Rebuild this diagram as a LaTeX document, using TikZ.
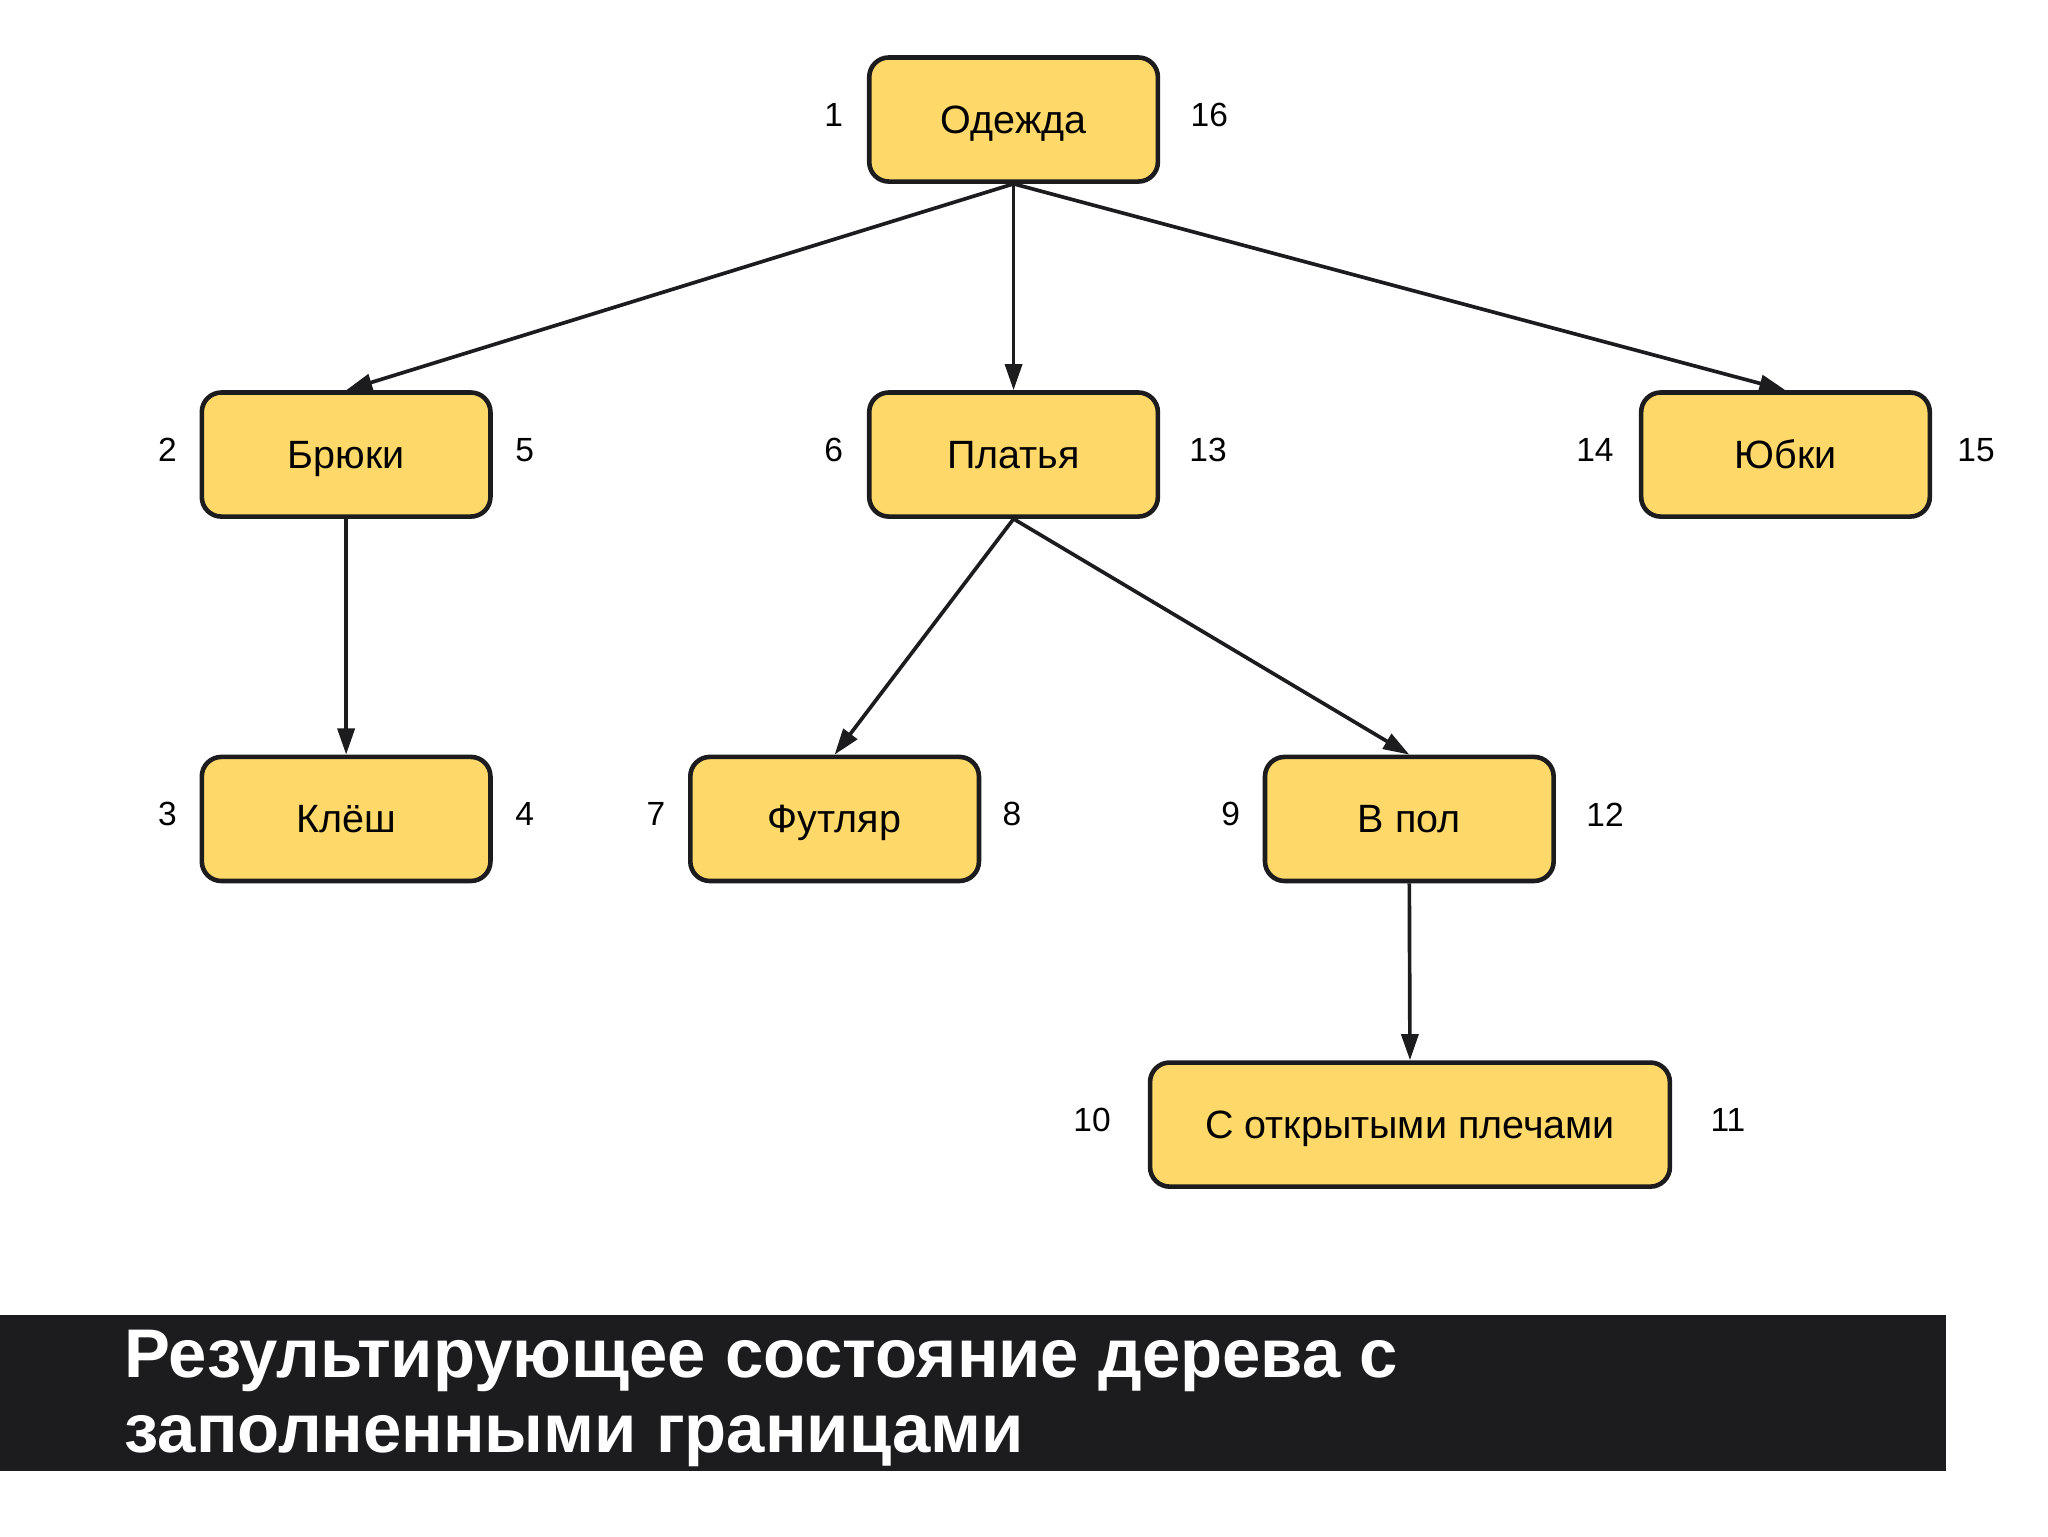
\documentclass[tikz,border=0pt]{standalone}
\usepackage{fontspec}
\setsansfont{Liberation Sans}
\newfontfamily\bannerfont{Liberation Sans}
\usepackage{tikz}
\usetikzlibrary{positioning,arrows.meta}
\definecolor{boxfill}{RGB}{254,217,106}
\definecolor{ink}{RGB}{28,27,29}

\begin{document}
\begin{tikzpicture}[
   font=\sffamily,
   box/.style={draw=ink,fill=boxfill,line width=2pt,rounded corners=0.3cm,
      minimum width=4.42cm,minimum height=1.9cm,inner sep=0pt,
      text height=14pt,text depth=2pt,
      font=\sffamily\fontsize{17.2}{20}\selectfont},
   num/.style={inner sep=0pt,yshift=0.07cm,font=\sffamily\fontsize{14.6}{18}\selectfont},
   link/.style={-{Triangle[length=0.4cm,width=0.26cm]},draw=ink,line width=1.6pt},
   banner/.style={anchor=base west,inner sep=0pt,text=white,
      font=\bannerfont\bfseries\fontsize{30}{34}\selectfont}]
\useasboundingbox (0,0) rectangle (31.36,-23.52);
\node[box] (odezhda) at (15.52,-1.83) {Одежда};
\node[box] (bryuki) at (5.30,-6.96) {Брюки};
\node[box] (platya) at (15.52,-6.96) {Платья};
\node[box] (yubki) at (27.34,-6.96) {Юбки};
\node[box] (klesh) at (5.30,-12.54) {Клёш};
\node[box] (futlyar) at (12.78,-12.54) {Футляр};
\node[box] (vpol) at (21.58,-12.54) {В пол};
\node[box,minimum width=7.96cm] (plechi) at (21.59,-17.22) {С открытыми плечами};
% numbers: entry and exit of each node
\node[num,left=0.36cm of odezhda] (n1) {1};
\node[num,right=0.46cm of odezhda] (n16) {16};
\node[num,left=0.34cm of bryuki] (n2) {2};
\node[num,right=0.34cm of bryuki] (n5) {5};
\node[num,left=0.36cm of platya] (n6) {6};
\node[num,right=0.44cm of platya] (n13) {13};
\node[num,left=0.38cm of yubki] (n14) {14};
\node[num,right=0.38cm of yubki] (n15) {15};
\node[num,left=0.34cm of klesh] (n3) {3};
\node[num,right=0.34cm of klesh] (n4) {4};
\node[num,left=0.34cm of futlyar] (n7) {7};
\node[num,right=0.32cm of futlyar] (n8) {8};
\node[num,left=0.34cm of vpol] (n9) {9};
\node[num,right=0.46cm of vpol] (n12) {12};
\node[num,left=0.56cm of plechi] (n10) {10};
\node[num,right=0.58cm of plechi] (n11) {11};
\draw[link] (odezhda.south) -- (bryuki.north);
\draw[link] (odezhda.south) -- (platya.north);
\draw[link] (odezhda.south) -- (yubki.north);
\draw[link] (bryuki.south) -- (klesh.north);
\draw[link] (platya.south) -- (futlyar.north);
\draw[link] (platya.south) -- (vpol.north);
\draw[link] (vpol.south) -- (plechi.north);
% caption bar
\fill[ink] (0,-20.14) rectangle (29.80,-22.52);
\node[banner] (title1) at (1.90,-21.10) {Результирующее состояние дерева с};
\node[banner] (title2) at (1.90,-22.24) {заполненными границами};
\end{tikzpicture}
\end{document}
